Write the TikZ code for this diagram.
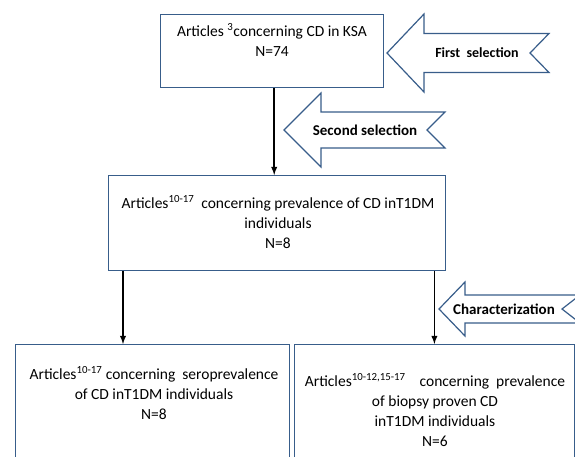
\documentclass[tikz,border=0pt]{standalone}
\usepackage{fontspec}
\setmainfont{Carlito}
\usepackage{tikz}
\usetikzlibrary{calc, arrows}
\tikzset{>=latex}
\definecolor{myblue}{RGB}{56, 93, 138}
\tikzset{
  box/.style={draw=myblue, line width=1.4pt, anchor=north west, inner sep=0pt},
  boxtext/.style={align=center, font=\fontsize{15.5}{20}\selectfont, inner sep=0pt},
  selarrow/.style={draw=myblue, line width=1.2pt, fill=white, line join=miter},
  seltext/.style={font=\fontsize{15}{17}\selectfont\bfseries, inner sep=0pt},
  flow/.style={->, line width=1.8pt}
}

\begin{document}
\begin{tikzpicture}[x=1pt, y=-1pt]
\useasboundingbox (0,0) rectangle (575,456);
\clip (0,0) rectangle (575,456);
\fill[white] (0,0) rectangle (575,456);

% boxes
\node[box, minimum width=223pt, minimum height=73pt] (top) at (160,14) {};
\node[box, minimum width=337pt, minimum height=95pt] (mid) at (108,175) {};
\node[box, minimum width=274pt, minimum height=130pt] (left) at (15,344) {};
\node[box, minimum width=280pt, minimum height=130pt] (right) at (294,344) {};

\node[boxtext] (toptext) at (272,40) {Articles \textsuperscript{3}concerning CD in KSA\\ N=74};
\node[boxtext] (midtext) at (278,222) {Articles\textsuperscript{10-17}\ \ concerning prevalence of CD inT1DM\\ individuals\\ N=8};
\node[boxtext] (lefttext) at (154,393) {Articles\textsuperscript{10-17} concerning\ \ seroprevalence\\ of CD inT1DM individuals\\ N=8};
\node[boxtext] (righttext) at (435,410) {Articles\textsuperscript{10-12,15-17}\ \ \ \ concerning\ \ prevalence\\ of biopsy proven CD\\ inT1DM individuals\\ N=6};

% connectors
\draw[flow] ([xshift=2pt]top.south) -- ([xshift=2pt]top.south |- mid.north);
\draw[flow] ([xshift=15pt]mid.south west) -- ([xshift=15pt]mid.south west |- left.north);
\draw[flow] ([xshift=-12pt]mid.south east) -- ([xshift=-12pt]mid.south east |- right.north);

% selection arrows
\draw[selarrow] (387,53) -- (424,14) -- (424,33.5) -- (549,33.5) -- (530,53) -- (549,72.5) -- (424,72.5) -- (424,92) -- cycle;
\node[seltext, font=\fontsize{14}{17}\selectfont\bfseries] (first) at (477,53) {First\ \ selection};

\draw[selarrow] (284,130) -- (321,93) -- (321,112) -- (445,112) -- (427,130) -- (445,148) -- (321,148) -- (321,167) -- cycle;
\node[seltext] (second) at (365,130) {Second selection};

\draw[selarrow] (439,309) -- (465,282) -- (465,295) -- (580,295) -- (562,309) -- (580,323) -- (465,323) -- (465,336) -- cycle;
\node[seltext] (charact) at (504,309) {Characterization};
\end{tikzpicture}
\end{document}
